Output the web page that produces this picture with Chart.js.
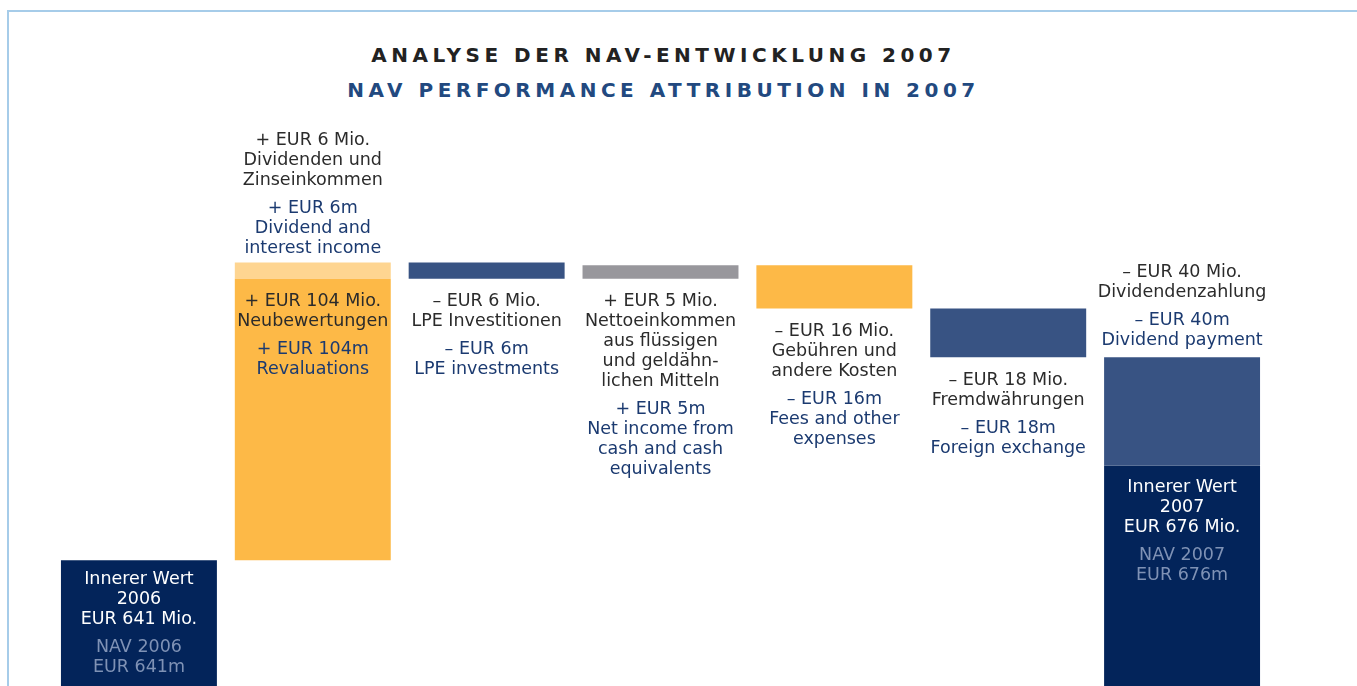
<!DOCTYPE html>
<html>
<head>
<meta charset="utf-8">
<script src="https://cdn.jsdelivr.net/npm/chart.js@4"></script>
<style>
  body { margin: 0; background: #fff; }
  #wrap { position: relative; width: 1357px; height: 686px; overflow: hidden; }
  #frame { position: absolute; left: 7px; top: 10px; right: 0; bottom: 0; border-top: 2px solid #a6cce9; border-left: 2px solid #a6cce9; }
  .ttl { position: absolute; left: 0; width: 1327px; text-align: center; font-family: "DejaVu Sans", Verdana, sans-serif; font-weight: bold; font-size: 20px; letter-spacing: 4.5px; white-space: nowrap; }
  #t1 { top: 43px; color: #222; }
  #t2 { top: 78px; color: #22497f; }
  canvas { position: absolute; left: 0; top: 0; }
</style>
</head>
<body>
<div id="wrap">
  <div id="frame"></div>
  <div class="ttl" id="t1">ANALYSE DER NAV-ENTWICKLUNG 2007</div>
  <div class="ttl" id="t2">NAV PERFORMANCE ATTRIBUTION IN 2007</div>
  <canvas id="navChart" width="1357" height="686"></canvas>
</div>
<script>
// Werte in EUR Mio.
const categories = ['Innerer Wert 2006', 'Neubewertungen', 'LPE Investitionen', 'Nettoeinkommen', 'Gebühren und andere Kosten', 'Fremdwährungen', 'Innerer Wert 2007'];
const nav2006 = 641;
const nav2007 = 676;
// + Neubewertungen, + Dividenden/Zinsen, - LPE, + Cash, - Kosten, - FX, - Dividende
const steps = [104, 6, -6, 5, -16, -18, -40];

// Beschriftungen (deutsch / englisch)
const labelsDe = [
  ['Innerer Wert', '2006', 'EUR 641 Mio.'],
  ['+ EUR 104 Mio.', 'Neubewertungen'],
  ['– EUR 6 Mio.', 'LPE Investitionen'],
  ['+ EUR 5 Mio.', 'Nettoeinkommen', 'aus flüssigen', 'und geldähn-', 'lichen Mitteln'],
  ['– EUR 16 Mio.', 'Gebühren und', 'andere Kosten'],
  ['– EUR 18 Mio.', 'Fremdwährungen'],
  ['– EUR 40 Mio.', 'Dividendenzahlung']
];
const labelsEn = [
  ['NAV 2006', 'EUR 641m'],
  ['+ EUR 104m', 'Revaluations'],
  ['– EUR 6m', 'LPE investments'],
  ['+ EUR 5m', 'Net income from', 'cash and cash', 'equivalents'],
  ['– EUR 16m', 'Fees and other', 'expenses'],
  ['– EUR 18m', 'Foreign exchange'],
  ['– EUR 40m', 'Dividend payment']
];
const divIncomeDe = ['+ EUR 6 Mio.', 'Dividenden und', 'Zinseinkommen'];
const divIncomeEn = ['+ EUR 6m', 'Dividend and', 'interest income'];
const nav2007De = ['Innerer Wert', '2007', 'EUR 676 Mio.'];
const nav2007En = ['NAV 2007', 'EUR 676m'];

const navy = '#03245a';
const blue = '#385383';
const orange = '#fdb947';
const lightOrange = '#fed591';
const grey = '#98979c';

// Wasserfall aufbauen
let running = nav2006;
const mainBars = [[0, nav2006]];
const extraBars = [null];
// Neubewertungen
mainBars.push([running, running + steps[0]]);
running += steps[0];
// Dividenden im selben Balken oben drauf
extraBars.push([running, running + steps[1]]);
running += steps[1];
for (let i = 2; i < steps.length; i++) {
  const next = running + steps[i];
  mainBars.push([Math.min(running, next), Math.max(running, next)]);
  extraBars.push(null);
  running = next;
}
extraBars[6] = [0, nav2007];

const textPlugin = {
  id: 'waterfallText',
  afterDatasetsDraw(chart) {
    const ctx = chart.ctx;
    const m = chart.getDatasetMeta(0).data;
    const e = chart.getDatasetMeta(1).data;
    const top = el => Math.min(el.y, el.base);
    const bottom = el => Math.max(el.y, el.base);

    function block(x, y, de, en, cDe, cEn, up) {
      const lh = 20, gap = 28;
      const all = de.length + en.length;
      let start = y;
      if (up) start = y - ((all - 2) * lh + gap);
      ctx.save();
      ctx.font = '17.5px "DejaVu Sans", Verdana, sans-serif';
      ctx.textAlign = 'center';
      ctx.textBaseline = 'middle';
      let yy = start;
      de.forEach(t => { ctx.fillStyle = cDe; ctx.fillText(t, x, yy); yy += lh; });
      yy += gap - lh;
      en.forEach(t => { ctx.fillStyle = cEn; ctx.fillText(t, x, yy); yy += lh; });
      ctx.restore();
    }
    const dark = '#2b2b2b', nav = '#1b3a70', white = '#ffffff', pale = '#7f92b5';

    block(m[0].x, top(m[0]) + 19, labelsDe[0], labelsEn[0], white, pale);
    block(m[1].x, top(m[1]) + 23, labelsDe[1], labelsEn[1], dark, nav);
    block(e[1].x, top(e[1]) - 14, divIncomeDe, divIncomeEn, dark, nav, true);
    for (let i = 2; i <= 5; i++) {
      block(m[i].x, bottom(m[i]) + 23, labelsDe[i], labelsEn[i], dark, nav);
    }
    block(m[6].x, top(m[6]) - 17, labelsDe[6], labelsEn[6], dark, nav, true);
    block(e[6].x, top(e[6]) + 22, nav2007De, nav2007En, white, pale);
  }
};

const ctx = document.getElementById('navChart').getContext('2d');
new Chart(ctx, {
  type: 'bar',
  data: {
    labels: categories,
    datasets: [{
      label: 'Veränderung',
      data: mainBars,
      backgroundColor: [navy, orange, blue, grey, orange, blue, blue],
      grouped: false,
      barPercentage: 0.897,
      categoryPercentage: 1
    }, {
      label: 'Zusatz',
      data: extraBars,
      backgroundColor: [navy, lightOrange, blue, grey, orange, blue, navy],
      grouped: false,
      barPercentage: 0.897,
      categoryPercentage: 1
    }]
  },
  options: {
    responsive: false,
    animation: false,
    layout: { padding: { left: 52, right: 88, top: 130, bottom: 0 } },
    plugins: { legend: { display: false }, tooltip: { enabled: false }, title: { display: false } },
    scales: {
      x: { display: false },
      y: { display: false, min: 594.5, max: 800 }
    }
  },
  plugins: [textPlugin]
});
</script>
</body>
</html>
